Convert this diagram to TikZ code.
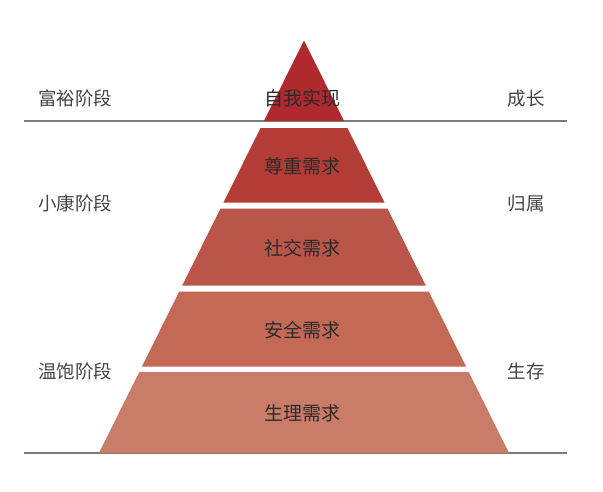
\documentclass[tikz,border=0pt]{standalone}
\usepackage{fontspec}
\newfontfamily\cjk{Noto Sans CJK SC}
\usetikzlibrary{calc,positioning}
\definecolor{lvlA}{HTML}{B0292F}
\definecolor{lvlB}{HTML}{B43C36}
\definecolor{lvlC}{HTML}{BA5549}
\definecolor{lvlD}{HTML}{C36956}
\definecolor{lvlE}{HTML}{C97C67}
\definecolor{rulegray}{HTML}{7A7A7A}
\definecolor{needink}{HTML}{2B2B2B}
\definecolor{stageink}{HTML}{444444}
\newcommand{\halfw}[1]{0.497*(#1-40.5)}

\tikzset{
  stage/.style={font=\cjk\fontsize{18.5}{20}\selectfont,text=stageink,inner sep=0pt},
  need/.style={font=\cjk\fontsize{19}{21}\selectfont,text=needink,inner sep=0pt},
  divider/.style={draw=rulegray,line width=1.2pt}
}

\begin{document}
\begin{tikzpicture}[x=1pt,y=-1pt]
\useasboundingbox (0,0) rectangle (603,491);
% base lines
\draw[divider] (24,121) -- (567,121);
\draw[divider] (24,453) -- (567,453);
% pyramid layers, top to bottom
\foreach \i/\ytop/\ybot/\col/\ty/\txt in {
  1/40.5/121/lvlA/98/自我实现,
  2/128/202.5/lvlB/166/尊重需求,
  3/208.5/285.5/lvlC/248/社交需求,
  4/291.5/366.5/lvlD/330/安全需求,
  5/372/453/lvlE/413/生理需求}{
  \pgfmathsetmacro{\wt}{\halfw{\ytop}}
  \pgfmathsetmacro{\wb}{\halfw{\ybot}}
  \fill[\col] (304-\wt,\ytop) -- (304+\wt,\ytop) -- (304+\wb,\ybot) -- (304-\wb,\ybot) -- cycle;
  \node[need] (need\i) at (302,\ty) {\txt};
}
% stages left, motives right
\node[stage] (rich) at (75,98.5) {富裕阶段};
\node[stage] (comfy) at (75,203.5) {小康阶段};
\node[stage] (warm) at (75,371.5) {温饱阶段};
\node[stage] (grow) at (526,98.5) {成长};
\node[stage] (belong) at (526,203.5) {归属};
\node[stage] (live) at (526,371.5) {生存};
\end{tikzpicture}
\end{document}
